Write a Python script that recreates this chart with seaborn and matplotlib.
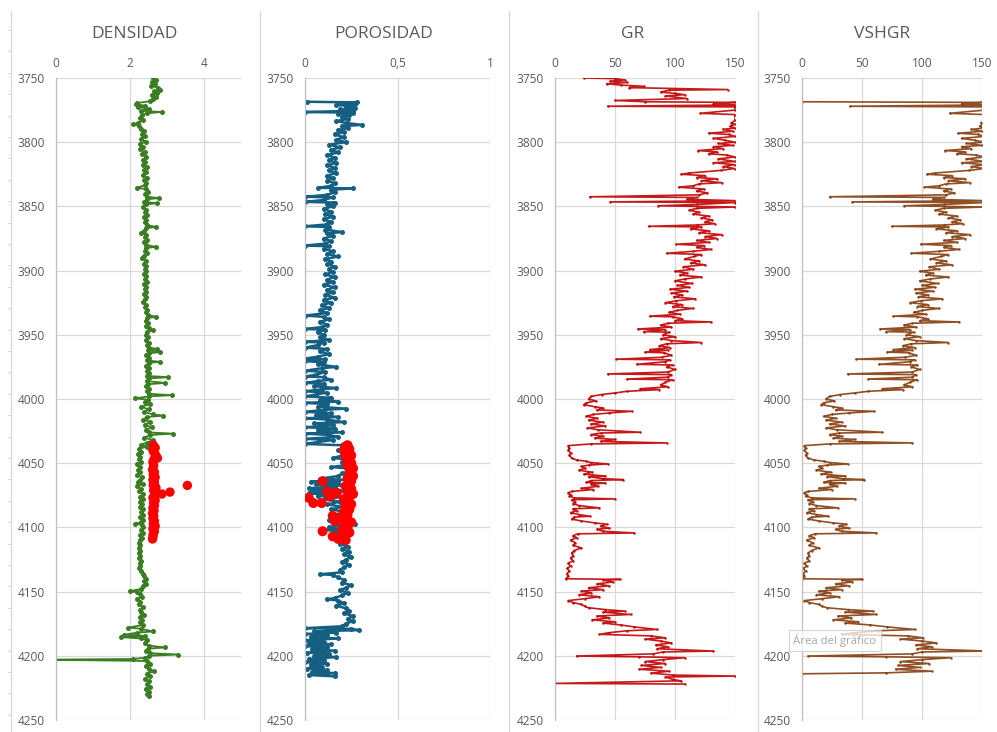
import matplotlib
matplotlib.use("Agg")
import matplotlib.pyplot as plt
from matplotlib.lines import Line2D
import seaborn as sns
import pandas as pd

# ---------------- data (depth m, value) ----------------
TITLES = ["DENSIDAD", "POROSIDAD", "GR", "VSHGR"]
DEPTH_TICKS = [3750, 3800, 3850, 3900, 3950, 4000, 4050, 4100, 4150, 4200, 4250]
DENS_TICKS = [0, 2, 4]
PHI_TICKS = [0, 0.5, 1]
PHI_TICK_LABELS = ["0", "0,5", "1"]
GR_TICKS = [0, 50, 100, 150]

densidad = [
    (3750, 2.62), (3751.5, 2.70), (3753, 2.60), (3754.5, 2.68), (3756, 2.58), (3757.5, 2.75),
    (3759, 2.82), (3760.5, 2.65), (3762, 2.72), (3763.5, 2.60), (3765, 2.70), (3766.5, 2.62),
    (3768, 2.55), (3769.5, 2.20), (3770.5, 2.16), (3771.5, 2.40), (3772.5, 2.22), (3774, 2.50),
    (3775.5, 2.30), (3776.5, 2.86), (3777.5, 2.45), (3779, 2.32), (3781, 2.26), (3783, 2.35),
    (3785, 2.22), (3786, 2.09), (3787.5, 2.25), (3789.5, 2.30), (3791.5, 2.38), (3793.5, 2.32),
    (3795.5, 2.40), (3797.5, 2.30), (3799.5, 2.42), (3801.5, 2.28), (3803.5, 2.36), (3805.5, 2.26),
    (3807.5, 2.40), (3809.5, 2.32), (3811.5, 2.44), (3813.5, 2.35), (3815.5, 2.40), (3817.5, 2.34),
    (3819.5, 2.45), (3821.5, 2.38), (3823.5, 2.42), (3825.5, 2.36), (3827.5, 2.45), (3829.5, 2.38),
    (3831.5, 2.44), (3833.5, 2.40), (3835.5, 2.18), (3836.5, 2.42), (3838.5, 2.48), (3840.5, 2.40),
    (3842.5, 2.46), (3843.5, 2.78), (3844.5, 2.45), (3846.5, 2.38), (3847.5, 2.74), (3848.5, 2.42),
    (3850.5, 2.36), (3852.5, 2.44), (3854.5, 2.40), (3856.5, 2.46), (3858.5, 2.38), (3860.5, 2.44),
    (3862.5, 2.40), (3864.5, 2.45), (3866, 2.70), (3867, 2.42), (3869, 2.38), (3870.5, 2.30),
    (3872, 2.44), (3874, 2.40), (3876, 2.46), (3878, 2.38), (3880, 2.44), (3881.5, 2.70),
    (3882.5, 2.42), (3884.5, 2.40), (3886.5, 2.46), (3888.5, 2.38), (3890.5, 2.33), (3892.5, 2.42),
    (3894.5, 2.38), (3896.5, 2.44), (3898.5, 2.40), (3900.5, 2.42), (3902.5, 2.38), (3904.5, 2.44),
    (3906.5, 2.40), (3908.5, 2.45), (3910.5, 2.38), (3912.5, 2.42), (3914.5, 2.40), (3916.5, 2.44),
    (3918.5, 2.38), (3920.5, 2.43), (3922.5, 2.40), (3924.5, 2.36), (3926.5, 2.42), (3928.5, 2.40),
    (3930.5, 2.46), (3932.5, 2.42), (3934.5, 2.48), (3936, 2.70), (3937, 2.46), (3939, 2.42),
    (3941, 2.48), (3943, 2.44), (3945, 2.50), (3946.5, 2.62), (3948, 2.45), (3950, 2.42),
    (3952, 2.48), (3954, 2.44), (3956, 2.50), (3958, 2.45), (3960, 2.52), (3961, 2.72),
    (3962, 2.48), (3963.5, 2.80), (3964.5, 2.50), (3966, 2.44), (3968, 2.50), (3970, 2.46),
    (3971, 2.80), (3972, 2.50), (3974, 2.44), (3976, 2.52), (3978, 2.46), (3980, 2.50),
    (3982, 2.45), (3983, 3.03), (3984, 2.50), (3986, 2.46), (3987.5, 2.95), (3988.5, 2.48),
    (3990, 2.44), (3992, 2.52), (3994, 2.46), (3996, 2.50), (3997, 3.14), (3998, 2.50),
    (3999.5, 2.14), (4000.5, 2.48), (4002, 2.40), (4004, 2.55), (4006, 2.30), (4008, 2.50),
    (4010, 2.38), (4012, 2.62), (4013, 2.90), (4014, 2.45), (4016, 2.35), (4018, 2.55),
    (4020, 2.40), (4022, 2.60), (4024, 2.42), (4026, 2.50), (4027, 3.17), (4028, 2.55),
    (4030, 2.38), (4032, 2.62), (4034, 2.45), (4035.5, 2.30), (4037, 2.45), (4039, 2.24),
    (4041, 2.30), (4043, 2.22), (4045, 2.28), (4047, 2.24), (4049, 2.30), (4051, 2.20),
    (4053, 2.26), (4055, 2.22), (4057, 2.28), (4059, 2.20), (4061, 2.32), (4063, 2.26),
    (4065, 2.22), (4066.5, 2.35), (4068, 2.20), (4070, 2.30), (4072, 2.25), (4074, 2.36),
    (4076, 2.28), (4078, 2.34), (4080, 2.26), (4082, 2.32), (4084, 2.28), (4086, 2.36),
    (4088, 2.30), (4090, 2.34), (4092, 2.28), (4094, 2.35), (4096, 2.30), (4097, 2.13),
    (4098, 2.32), (4100, 2.36), (4102, 2.30), (4104, 2.34), (4106, 2.28), (4108, 2.32),
    (4110, 2.26), (4112, 2.24), (4114, 2.28), (4116, 2.24), (4118, 2.26), (4120, 2.23),
    (4122, 2.28), (4124, 2.25), (4126, 2.30), (4128, 2.26), (4130, 2.28), (4132, 2.24),
    (4134, 2.30), (4136, 2.34), (4138, 2.38), (4140, 2.42), (4142, 2.38), (4144, 2.44),
    (4146, 2.36), (4148, 2.30), (4149.5, 2.00), (4150.5, 2.18), (4152, 2.26), (4154, 2.32),
    (4156, 2.20), (4158, 2.28), (4160, 2.24), (4162, 2.34), (4164, 2.26), (4166, 2.30),
    (4168, 2.38), (4170, 2.26), (4172, 2.32), (4174, 2.28), (4176, 2.36), (4178, 1.95),
    (4179, 2.30), (4181, 2.62), (4182, 2.20), (4183.5, 1.85), (4184.5, 2.40), (4185.5, 1.77),
    (4186.5, 2.30), (4188, 2.45), (4190, 2.40), (4192, 2.50), (4193.5, 2.95), (4194.5, 2.48),
    (4196, 2.42), (4198, 2.55), (4199, 3.30), (4200, 2.50), (4201.5, 2.40), (4202.5, 2.09),
    (4203, -0.6), (4204, 2.45), (4206, 2.55), (4208, 2.42), (4210, 2.50), (4212, 2.65),
    (4214, 2.45), (4216, 2.55), (4218, 2.40), (4220, 2.52), (4222, 2.46), (4224, 2.55),
    (4226, 2.44), (4228, 2.50), (4230, 2.46), (4231, 2.52),
]

densidad_zona = [
    (4036, 2.63), (4038, 2.68), (4040, 2.62), (4042, 2.66), (4044, 2.70), (4046, 2.74),
    (4047, 2.65), (4049, 2.62), (4052, 2.64), (4055, 2.61), (4057, 2.66), (4059, 2.63),
    (4061, 2.68), (4063, 2.62), (4065, 2.66), (4067, 2.63), (4069, 2.70), (4071, 2.64),
    (4073, 2.72), (4074, 2.86), (4075, 2.66), (4077, 2.62), (4079, 2.68), (4081, 2.64),
    (4083, 2.66), (4085, 2.62), (4087, 2.65), (4089, 2.61), (4091, 2.64), (4093, 2.62),
    (4095, 2.66), (4097, 2.63), (4099, 2.68), (4101, 2.62), (4103, 2.66), (4105, 2.63),
    (4107, 2.62), (4109, 2.61), (4072.5, 3.08), (4067.3, 3.55),
]

porosidad = [
    (3768.5, 0.01), (3769, 0.28), (3769.5, 0.20), (3770, 0.27), (3771, 0.17), (3772, 0.25),
    (3773, 0.22), (3773.5, 0.27), (3774.5, 0.19), (3775.5, 0.26), (3776.5, 0.00), (3777, 0.26),
    (3778, 0.18), (3779, 0.24), (3780.5, 0.20), (3782, 0.23), (3783.5, 0.17), (3785, 0.22),
    (3786.5, 0.31), (3787.5, 0.20), (3789, 0.23), (3790.5, 0.18), (3792, 0.21), (3794, 0.16),
    (3796, 0.21), (3798, 0.17), (3800, 0.22), (3802, 0.13), (3804, 0.19), (3806, 0.14),
    (3808, 0.18), (3810, 0.12), (3812, 0.16), (3814, 0.13), (3816, 0.17), (3818, 0.12),
    (3820, 0.16), (3822, 0.13), (3824, 0.17), (3826, 0.12), (3828, 0.15), (3830, 0.12),
    (3832, 0.16), (3834, 0.14), (3835.5, 0.07), (3836, 0.26), (3837, 0.14), (3839, 0.16),
    (3841, 0.12), (3842.5, 0.00), (3843, 0.15), (3845, 0.10), (3846.5, 0.00), (3847, 0.16),
    (3848.5, 0.12), (3850, 0.15), (3852, 0.10), (3854, 0.14), (3856, 0.11), (3858, 0.15),
    (3860, 0.10), (3862, 0.14), (3864, 0.12), (3865.5, 0.00), (3866, 0.13), (3868, 0.11),
    (3870, 0.20), (3871, 0.12), (3873, 0.15), (3875, 0.10), (3877, 0.14), (3879, 0.11),
    (3880.5, 0.00), (3881, 0.13), (3883, 0.10), (3885, 0.15), (3887, 0.12), (3889, 0.18),
    (3891, 0.11), (3893, 0.14), (3895, 0.12), (3897, 0.16), (3899, 0.13), (3901, 0.15),
    (3903, 0.11), (3905, 0.16), (3907, 0.12), (3909, 0.15), (3911, 0.10), (3913, 0.16),
    (3915, 0.12), (3917, 0.15), (3919, 0.11), (3921, 0.16), (3923, 0.10), (3925, 0.14),
    (3927, 0.09), (3929, 0.13), (3931, 0.08), (3933, 0.12), (3935, 0.00), (3936, 0.10),
    (3938, 0.13), (3940, 0.08), (3942, 0.12), (3944, 0.09), (3945.5, 0.00), (3946, 0.11),
    (3948, 0.07), (3950, 0.10), (3952, 0.08), (3954, 0.13), (3955.5, 0.00), (3956, 0.10),
    (3958, 0.07), (3960, 0.00), (3961, 0.12), (3963, 0.08), (3965, 0.13), (3967, 0.07),
    (3968.5, 0.00), (3969, 0.11), (3970.5, 0.00), (3971.5, 0.10), (3973, 0.07), (3975, 0.17),
    (3976, 0.09), (3978, 0.00), (3979, 0.11), (3981, 0.06), (3982.5, 0.00), (3983, 0.10),
    (3985, 0.14), (3986, 0.07), (3987.5, 0.00), (3988, 0.10), (3990, 0.05), (3991.5, 0.17),
    (3992.5, 0.09), (3994, 0.00), (3995, 0.12), (3996.5, 0.06), (3998, 0.00), (3999, 0.14),
    (4000.5, 0.08), (4002, 0.18), (4003, 0.00), (4004, 0.12), (4006, 0.07), (4007.5, 0.22),
    (4008.5, 0.10), (4010, 0.00), (4011, 0.14), (4012.5, 0.06), (4014, 0.18), (4015, 0.00),
    (4016, 0.12), (4018, 0.21), (4019, 0.05), (4020.5, 0.15), (4022, 0.00), (4023, 0.16),
    (4024.5, 0.07), (4026, 0.20), (4027, 0.00), (4028, 0.13), (4029.5, 0.18), (4031, 0.00),
    (4032, 0.15), (4033.5, 0.07), (4035, 0.00), (4036, 0.20), (4038, 0.22), (4040, 0.18),
    (4042, 0.24), (4044, 0.20), (4046, 0.15), (4047, 0.23), (4049, 0.20), (4051, 0.25),
    (4053, 0.14), (4054, 0.22), (4056, 0.24), (4058, 0.20), (4060, 0.18), (4062, 0.08),
    (4063, 0.22), (4064.5, 0.03), (4065, 0.18), (4066.5, 0.06), (4067, 0.20), (4068.5, 0.12),
    (4069.5, 0.02), (4070, 0.17), (4071, 0.04), (4072, 0.19), (4073.5, 0.02), (4074, 0.15),
    (4075.5, 0.07), (4076, 0.22), (4078, 0.10), (4080, 0.19), (4082, 0.12), (4084, 0.20),
    (4086, 0.14), (4088, 0.22), (4090, 0.16), (4092, 0.20), (4094, 0.13), (4096, 0.22),
    (4097, 0.27), (4098, 0.18), (4100, 0.13), (4101, 0.16), (4102, 0.10), (4103, 0.20),
    (4105, 0.15), (4107, 0.22), (4109, 0.18), (4111, 0.21), (4113, 0.19), (4115, 0.23),
    (4117, 0.20), (4119, 0.24), (4121, 0.21), (4123, 0.25), (4125, 0.22), (4127, 0.20),
    (4129, 0.24), (4131, 0.21), (4133, 0.19), (4135, 0.20), (4136.5, 0.08), (4137, 0.15),
    (4139, 0.18), (4141, 0.21), (4143, 0.20), (4145, 0.25), (4147, 0.22), (4149, 0.19),
    (4151, 0.23), (4153, 0.20), (4155, 0.16), (4156, 0.12), (4157, 0.18), (4159, 0.21),
    (4161, 0.17), (4163, 0.22), (4165, 0.24), (4167, 0.21), (4169, 0.26), (4171, 0.23),
    (4173, 0.26), (4175, 0.22), (4177, 0.20), (4178.5, 0.00), (4179, 0.25), (4180, 0.29),
    (4181, 0.05), (4182, 0.17), (4183, 0.00), (4184, 0.12), (4185.5, 0.03), (4186.5, 0.18),
    (4188, 0.00), (4189, 0.10), (4190, 0.02), (4191, 0.14), (4192.5, 0.00), (4193.5, 0.12),
    (4195, 0.04), (4196, 0.16), (4197.5, 0.01), (4198.5, 0.13), (4200, 0.05), (4201, 0.17),
    (4202.5, 0.02), (4203.5, 0.10), (4205, 0.00), (4206, 0.12), (4207.5, 0.03), (4208.5, 0.09),
    (4210, 0.01), (4211, 0.12), (4212.5, 0.04), (4213.5, 0.16), (4215, 0.02), (4216, 0.16),
]

porosidad_zona = [
    (4036, 0.23), (4037, 0.22), (4039, 0.24), (4040, 0.21), (4042, 0.23), (4044, 0.25),
    (4046, 0.22), (4048, 0.24), (4050, 0.25), (4052, 0.23), (4054, 0.26), (4056, 0.25),
    (4058, 0.24), (4060, 0.26), (4062, 0.23), (4064, 0.25), (4066, 0.24), (4068, 0.22),
    (4070, 0.25), (4072, 0.23), (4074, 0.26), (4076, 0.24), (4078, 0.21), (4080, 0.23),
    (4082, 0.25), (4084, 0.22), (4086, 0.24), (4088, 0.21), (4090, 0.23), (4092, 0.20),
    (4094, 0.22), (4096, 0.25), (4098, 0.21), (4100, 0.23), (4102, 0.20), (4104, 0.24),
    (4106, 0.22), (4108, 0.20), (4110, 0.22),
    (4077, 0.02), (4081, 0.045), (4081, 0.09), (4064, 0.095), (4072, 0.12), (4076, 0.135),
    (4073, 0.17), (4103, 0.095), (4091, 0.15), (4107, 0.15), (4109, 0.18), (4095, 0.16),
]

gr = [
    (3750.0, 24), (3750.5, 50), (3751.5, 58), (3752.5, 46), (3753.5, 60), (3754.5, 43),
    (3755.5, 55), (3756.5, 74), (3757.5, 62), (3759.0, 144), (3759.5, 95), (3761.0, 88),
    (3762.0, 100), (3763.0, 108), (3764.0, 92), (3766.0, 110), (3767.5, 50), (3768.5, 75),
    (3769.0, 150), (3770.0, 132), (3771.0, 150), (3772.0, 44), (3772.5, 150), (3775.0, 150),
    (3777.5, 121), (3778.5, 150), (3783.0, 150), (3785.0, 147), (3786.0, 150), (3787.5, 146),
    (3789.0, 150), (3790.0, 140), (3791.5, 148), (3793.0, 128), (3794.0, 145), (3795.5, 150),
    (3797.0, 132), (3798.5, 142), (3800.0, 150), (3801.0, 136), (3802.5, 148), (3803.5, 132),
    (3805.0, 140), (3806.5, 119), (3807.5, 135), (3809.0, 128), (3810.0, 143), (3811.5, 150),
    (3813.0, 136), (3815.0, 150), (3816.0, 132), (3817.5, 150), (3819.0, 140), (3820.5, 150),
    (3822.0, 138), (3824.0, 112), (3825.0, 105), (3826.0, 125), (3827.5, 118), (3828.5, 135),
    (3830.0, 122), (3831.5, 139), (3832.5, 120), (3834.0, 115), (3835.0, 103), (3836.5, 124),
    (3838.0, 118), (3839.5, 127), (3841.0, 120), (3842.5, 29), (3843.0, 118), (3844.5, 110),
    (3845.5, 150), (3846.5, 46), (3847.0, 150), (3848.5, 118), (3849.5, 86), (3850.5, 150),
    (3851.5, 118), (3853.0, 112), (3854.5, 120), (3856.0, 115), (3857.5, 128), (3859.0, 122),
    (3860.5, 131), (3862.0, 125), (3863.5, 133), (3864.5, 118), (3865.5, 78), (3866.0, 122),
    (3867.5, 113), (3869.0, 128), (3870.5, 120), (3872.0, 139), (3873.5, 125), (3875.0, 135),
    (3876.5, 118), (3878.0, 128), (3879.5, 101), (3880.5, 124), (3882.0, 118), (3883.5, 130),
    (3885.0, 115), (3886.5, 93), (3887.5, 122), (3889.0, 116), (3891.0, 108), (3892.5, 120),
    (3894.0, 113), (3895.5, 125), (3897.0, 107), (3899.0, 115), (3900.5, 100), (3902.0, 110),
    (3903.5, 104), (3905.0, 122), (3906.5, 108), (3908.0, 100), (3910.0, 114), (3911.5, 102),
    (3913.0, 112), (3914.5, 96), (3916.0, 110), (3917.5, 97), (3919.0, 106), (3920.5, 99),
    (3922.0, 117), (3923.5, 101), (3925.0, 92), (3926.5, 106), (3928.0, 98), (3929.5, 115),
    (3931.0, 102), (3932.5, 95), (3934.0, 104), (3935.5, 79), (3936.0, 98), (3937.5, 106),
    (3939.0, 100), (3940.0, 130), (3941.0, 94), (3942.5, 88), (3944.0, 97), (3945.5, 69),
    (3946.0, 92), (3947.5, 74), (3948.0, 95), (3950.0, 90), (3951.5, 100), (3953.0, 88),
    (3954.5, 97), (3956.0, 122), (3957.0, 93), (3958.5, 87), (3960.0, 96), (3961.5, 79),
    (3962.0, 94), (3963.5, 75), (3964.0, 91), (3966.0, 97), (3967.5, 89), (3969.0, 51),
    (3969.5, 96), (3971.0, 92), (3973.0, 68), (3973.5, 98), (3975.0, 93), (3977.0, 100),
    (3979.0, 94), (3980.5, 44), (3981.0, 97), (3983.0, 94), (3984.5, 60), (3985.0, 98),
    (3987.0, 92), (3989.0, 88), (3990.5, 94), (3992.0, 71), (3992.7, 87), (3994.0, 60),
    (3995.3, 50), (3996.5, 39), (3998.0, 30), (4000.0, 28), (4001.5, 34), (4003.0, 26),
    (4004.4, 24), (4006.0, 33), (4007.0, 40), (4008.5, 35), (4009.6, 64), (4010.9, 45),
    (4012.0, 32), (4013.5, 26), (4015.0, 35), (4016.5, 28), (4018.0, 40), (4019.5, 30),
    (4021.0, 42), (4022.5, 27), (4024.0, 36), (4025.9, 71), (4026.5, 38), (4027.7, 30),
    (4029.0, 40), (4030.5, 33), (4031.5, 50), (4033.0, 38), (4034.2, 93), (4035.0, 30),
    (4036.3, 11), (4038.0, 12), (4040.0, 11), (4042.0, 13), (4044.0, 12), (4046.0, 14),
    (4047.5, 18), (4048.5, 26), (4049.5, 30), (4050.6, 44), (4051.5, 28), (4052.5, 22),
    (4054.0, 25), (4055.5, 20), (4057.0, 31), (4058.5, 24), (4060.0, 42), (4060.5, 28),
    (4062.0, 40), (4062.8, 57), (4063.5, 30), (4065.0, 26), (4065.4, 42), (4066.5, 30),
    (4068.0, 36), (4069.5, 22), (4070.5, 32), (4072.0, 14), (4073.0, 11), (4074.5, 13),
    (4075.7, 12), (4077.0, 16), (4077.8, 50), (4078.5, 14), (4080.0, 17), (4081.5, 15),
    (4083.0, 20), (4084.8, 37), (4085.5, 15), (4087.0, 18), (4088.5, 13), (4090.0, 20),
    (4091.3, 29), (4092.0, 16), (4093.5, 14), (4095.0, 22), (4096.5, 33), (4097.5, 43),
    (4099.0, 38), (4100.5, 45), (4101.5, 35), (4103.0, 40), (4104.3, 66), (4105.0, 19),
    (4106.5, 15), (4108.0, 18), (4110.0, 13), (4112.0, 17), (4114.0, 15), (4116.0, 22),
    (4118.0, 16), (4120.0, 14), (4122.0, 15), (4124.0, 13), (4126.0, 15), (4128.0, 11),
    (4130.0, 13), (4132.0, 10), (4134.0, 12), (4136.0, 10), (4138.0, 11), (4140.0, 9),
    (4140.5, 54), (4141.0, 40), (4142.5, 48), (4144.0, 35), (4145.5, 45), (4147.0, 28),
    (4148.5, 40), (4149.6, 22), (4151.0, 30), (4152.5, 20), (4154.0, 37), (4155.5, 25),
    (4157.0, 11), (4158.5, 15), (4160.0, 22), (4161.5, 25), (4162.6, 28), (4164.0, 42),
    (4165.2, 58), (4166.0, 40), (4167.8, 63), (4169.0, 35), (4170.5, 45), (4172.0, 31),
    (4173.5, 50), (4174.5, 40), (4176.0, 55), (4177.5, 66), (4179.5, 85), (4180.5, 60),
    (4182.0, 45), (4183.3, 37), (4184.5, 80), (4186.0, 92), (4187.0, 75), (4188.5, 88),
    (4190.0, 97), (4191.5, 84), (4193.0, 94), (4194.5, 85), (4196.3, 132), (4197.0, 90),
    (4198.5, 82), (4200.2, 18), (4200.8, 70), (4201.5, 108), (4203.0, 90), (4204.5, 75),
    (4206.0, 92), (4207.5, 72), (4209.0, 88), (4210.5, 70), (4212.0, 95), (4213.5, 80),
    (4215.0, 98), (4215.8, 150), (4216.5, 92), (4218.4, 98), (4219.5, 105), (4221.5, 0),
    (4222.0, 108),
]

vshgr = [
    (3768.5, 0), (3769.0, 152), (3770.0, 133), (3771.0, 152), (3772.0, 40), (3772.5, 152),
    (3775.0, 152), (3777.5, 123), (3778.5, 152), (3783.0, 152), (3785.0, 149), (3786.0, 152),
    (3787.5, 148), (3789.0, 152), (3790.0, 141), (3791.5, 150), (3793.0, 130), (3794.0, 147),
    (3795.5, 152), (3797.0, 133), (3798.5, 144), (3800.0, 152), (3801.0, 137), (3802.5, 150),
    (3803.5, 133), (3805.0, 141), (3806.5, 119), (3807.5, 136), (3809.0, 129), (3810.0, 145),
    (3811.5, 152), (3813.0, 137), (3815.0, 152), (3816.0, 133), (3817.5, 152), (3819.0, 141),
    (3820.5, 152), (3822.0, 139), (3824.0, 111), (3825.0, 104), (3826.0, 125), (3827.5, 118),
    (3828.5, 136), (3830.0, 122), (3831.5, 140), (3832.5, 120), (3834.0, 114), (3835.0, 102),
    (3836.5, 124), (3838.0, 118), (3839.5, 127), (3841.0, 120), (3842.5, 23), (3843.0, 118),
    (3844.5, 109), (3845.5, 152), (3846.5, 42), (3847.0, 152), (3848.5, 118), (3849.5, 85),
    (3850.5, 152), (3851.5, 118), (3853.0, 111), (3854.5, 120), (3856.0, 114), (3857.5, 129),
    (3859.0, 122), (3860.5, 132), (3862.0, 125), (3863.5, 134), (3864.5, 118), (3865.5, 75),
    (3866.0, 122), (3867.5, 112), (3869.0, 129), (3870.5, 120), (3872.0, 140), (3873.5, 125),
    (3875.0, 136), (3876.5, 118), (3878.0, 129), (3879.5, 99), (3880.5, 124), (3882.0, 118),
    (3883.5, 131), (3885.0, 114), (3886.5, 91), (3887.5, 122), (3889.0, 116), (3891.0, 107),
    (3892.5, 120), (3894.0, 112), (3895.5, 125), (3897.0, 106), (3899.0, 114), (3900.5, 98),
    (3902.0, 109), (3903.5, 103), (3905.0, 122), (3906.5, 107), (3908.0, 98), (3910.0, 113),
    (3911.5, 100), (3913.0, 111), (3914.5, 94), (3916.0, 109), (3917.5, 95), (3919.0, 105),
    (3920.5, 97), (3922.0, 117), (3923.5, 99), (3925.0, 90), (3926.5, 105), (3928.0, 96),
    (3929.5, 114), (3931.0, 100), (3932.5, 93), (3934.0, 103), (3935.5, 76), (3936.0, 96),
    (3937.5, 105), (3939.0, 98), (3940.0, 131), (3941.0, 92), (3942.5, 85), (3944.0, 95),
    (3945.5, 65), (3946.0, 90), (3947.5, 70), (3948.0, 93), (3950.0, 87), (3951.5, 98),
    (3953.0, 85), (3954.5, 95), (3956.0, 122), (3957.0, 91), (3958.5, 84), (3960.0, 94),
    (3961.5, 76), (3962.0, 92), (3963.5, 71), (3964.0, 89), (3966.0, 95), (3967.5, 86),
    (3969.0, 45), (3969.5, 94), (3971.0, 90), (3973.0, 64), (3973.5, 96), (3975.0, 91),
    (3977.0, 98), (3979.0, 92), (3980.5, 38), (3981.0, 95), (3983.0, 92), (3984.5, 55),
    (3985.0, 96), (3987.0, 90), (3989.0, 85), (3990.5, 92), (3992.0, 67), (3992.7, 84),
    (3994.0, 55), (3995.3, 44), (3996.5, 32), (3998.0, 23), (4000.0, 20), (4001.5, 27),
    (4003.0, 18), (4004.4, 16), (4006.0, 26), (4007.0, 33), (4008.5, 28), (4009.6, 60),
    (4010.9, 39), (4012.0, 25), (4013.5, 18), (4015.0, 28), (4016.5, 20), (4018.0, 33),
    (4019.5, 23), (4021.0, 36), (4022.5, 20), (4024.0, 29), (4025.9, 67), (4026.5, 31),
    (4027.7, 23), (4029.0, 33), (4030.5, 26), (4031.5, 44), (4033.0, 31), (4034.2, 92),
    (4035.0, 23), (4036.3, 2), (4038.0, 3), (4040.0, 2), (4042.0, 4), (4044.0, 3),
    (4046.0, 5), (4047.5, 10), (4048.5, 18), (4049.5, 23), (4050.6, 38), (4051.5, 21),
    (4052.5, 14), (4054.0, 17), (4055.5, 12), (4057.0, 24), (4058.5, 16), (4060.0, 36),
    (4060.5, 21), (4062.0, 34), (4062.8, 52), (4063.5, 23), (4065.0, 18), (4065.4, 36),
    (4066.5, 23), (4068.0, 29), (4069.5, 14), (4070.5, 25), (4072.0, 5), (4073.0, 2),
    (4074.5, 4), (4075.7, 3), (4077.0, 8), (4077.8, 44), (4078.5, 5), (4080.0, 9),
    (4081.5, 6), (4083.0, 12), (4084.8, 30), (4085.5, 6), (4087.0, 10), (4088.5, 4),
    (4090.0, 12), (4091.3, 22), (4092.0, 8), (4093.5, 5), (4095.0, 14), (4096.5, 26),
    (4097.5, 37), (4099.0, 31), (4100.5, 39), (4101.5, 28), (4103.0, 33), (4104.3, 62),
    (4105.0, 11), (4106.5, 6), (4108.0, 10), (4110.0, 4), (4112.0, 9), (4114.0, 6),
    (4116.0, 14), (4118.0, 8), (4120.0, 5), (4122.0, 6), (4124.0, 4), (4126.0, 6),
    (4128.0, 2), (4130.0, 4), (4132.0, 1), (4134.0, 3), (4136.0, 1), (4138.0, 2),
    (4140.0, 0), (4140.5, 50), (4141.0, 33), (4142.5, 42), (4144.0, 28), (4145.5, 39),
    (4147.0, 20), (4148.5, 33), (4149.6, 14), (4151.0, 23), (4152.5, 12), (4154.0, 31),
    (4155.5, 17), (4157.0, 2), (4158.5, 6), (4160.0, 14), (4161.5, 17), (4162.6, 21),
    (4164.0, 38), (4165.2, 59), (4166.0, 36), (4167.8, 62), (4169.0, 30), (4170.5, 41),
    (4172.0, 26), (4173.5, 47), (4174.5, 36), (4176.0, 57), (4177.5, 71), (4179.5, 94),
    (4180.5, 63), (4182.0, 45), (4183.3, 33), (4184.5, 88), (4186.0, 101), (4187.0, 82),
    (4188.5, 100), (4190.0, 112), (4191.5, 95), (4193.0, 108), (4194.5, 96), (4196.3, 155),
    (4197.0, 100), (4198.5, 92), (4200.2, 5), (4200.8, 70), (4201.5, 124), (4203.0, 100),
    (4204.5, 82), (4206.0, 106), (4207.5, 80), (4209.0, 98), (4210.5, 78), (4212.0, 108),
    (4213.3, 70), (4214.0, 0),
]

# ---------------- styling ----------------
sns.set_theme(style="white")
plt.rcParams["font.family"] = ["Open Sans", "DejaVu Sans"]

W, H = 997, 732
TXT = "#595959"
GRID = "#d9d9d9"

fig = plt.figure(figsize=(W / 100, H / 100), dpi=100)
fig.patch.set_facecolor("white")


def make_axes(left, right, top=78, bottom=720):
    return fig.add_axes([left / W, 1 - bottom / H, (right - left) / W, (bottom - top) / H])


def to_df(pairs):
    return pd.DataFrame(pairs, columns=["prof", "val"])


panels = [
    dict(lr=(56, 241), xlim=(0, 5), ticks=DENS_TICKS, labels=[str(t) for t in DENS_TICKS],
         center=134.5),
    dict(lr=(305, 490), xlim=(0, 1), ticks=PHI_TICKS, labels=PHI_TICK_LABELS, center=383.5),
    dict(lr=(555, 735), xlim=(0, 150), ticks=GR_TICKS, labels=[str(t) for t in GR_TICKS],
         center=632.5),
    dict(lr=(802, 982), xlim=(0, 150), ticks=GR_TICKS, labels=[str(t) for t in GR_TICKS],
         center=882),
]

axes = []
for i, p in enumerate(panels):
    ax = make_axes(*p["lr"])
    ax.set_facecolor("white")
    ax.set_xlim(*p["xlim"])
    ax.set_ylim(4250, 3750)
    ax.set_yticks(DEPTH_TICKS)
    ax.set_yticklabels([str(d) for d in DEPTH_TICKS])
    ax.set_xticks(p["ticks"])
    ax.set_xticklabels(p["labels"])
    ax.xaxis.tick_top()
    ax.tick_params(axis="both", length=0, colors=TXT, labelsize=8.6)
    ax.tick_params(axis="y", pad=8)
    ax.tick_params(axis="x", pad=6)
    ax.grid(True, color=GRID, linewidth=0.9)
    ax.set_axisbelow(True)
    for s in ["top", "right", "bottom"]:
        ax.spines[s].set_visible(False)
    ax.spines["left"].set_color("#bfbfbf")
    ax.spines["left"].set_linewidth(0.9)
    fig.text(p["center"] / W, 1 - 33.5 / H, TITLES[i], ha="center", va="center",
             fontsize=12.5, color=TXT)
    axes.append(ax)

# DENSIDAD
d = to_df(densidad)
sns.lineplot(data=d, x="val", y="prof", sort=False, estimator=None, ax=axes[0],
             color="#3A7D22", linewidth=1.3, marker="o", markersize=3.6,
             markeredgewidth=0, legend=False)
dz = to_df(densidad_zona)
sns.scatterplot(data=dz, x="val", y="prof", ax=axes[0], color="#FF0000", s=46,
                edgecolor="none", zorder=5, legend=False)

# POROSIDAD
p_ = to_df(porosidad)
sns.lineplot(data=p_, x="val", y="prof", sort=False, estimator=None, ax=axes[1],
             color="#156082", linewidth=1.8, marker="o", markersize=3.6,
             markeredgewidth=0, legend=False)
pz = to_df(porosidad_zona)
sns.scatterplot(data=pz, x="val", y="prof", ax=axes[1], color="#FF0000", s=52,
                edgecolor="none", zorder=5, legend=False)

# GR
g = to_df(gr)
sns.lineplot(data=g, x="val", y="prof", sort=False, estimator=None, ax=axes[2],
             color="#C00000", linewidth=1.2, alpha=0.9, marker="o", markersize=1.8,
             markeredgewidth=0, legend=False)

# VSHGR
v = to_df(vshgr)
sns.lineplot(data=v, x="val", y="prof", sort=False, estimator=None, ax=axes[3],
             color="#843C0C", linewidth=1.2, alpha=0.9, marker="o", markersize=1.8,
             markeredgewidth=0, legend=False)

for ax in axes:
    ax.set_xlabel("")
    ax.set_ylabel("")

# chart-area borders between the four charts
for xb in [10.5, 259.5, 508.5, 757.5]:
    fig.add_artist(Line2D([xb / W, xb / W], [1 - 11 / H, 0], color=GRID, linewidth=1.0))
# faint minor ticks on the leftmost border
k = 0
while 30 + k * 21.4 < H:
    yy = 1 - (30 + k * 21.4) / H
    fig.add_artist(Line2D([7.5 / W, 10.5 / W], [yy, yy], color=GRID, linewidth=0.8))
    k += 1

# tooltip left on the screenshot
fig.text(835 / W, 1 - 640.5 / H, "Área del gráfico", ha="center", va="center",
         fontsize=8.2, color="#a6a6a6",
         bbox=dict(boxstyle="square,pad=0.35", facecolor="white", alpha=0.75,
                   edgecolor="#c8c8c8", linewidth=0.8))

fig.savefig("out.png", dpi=100, facecolor="white")
